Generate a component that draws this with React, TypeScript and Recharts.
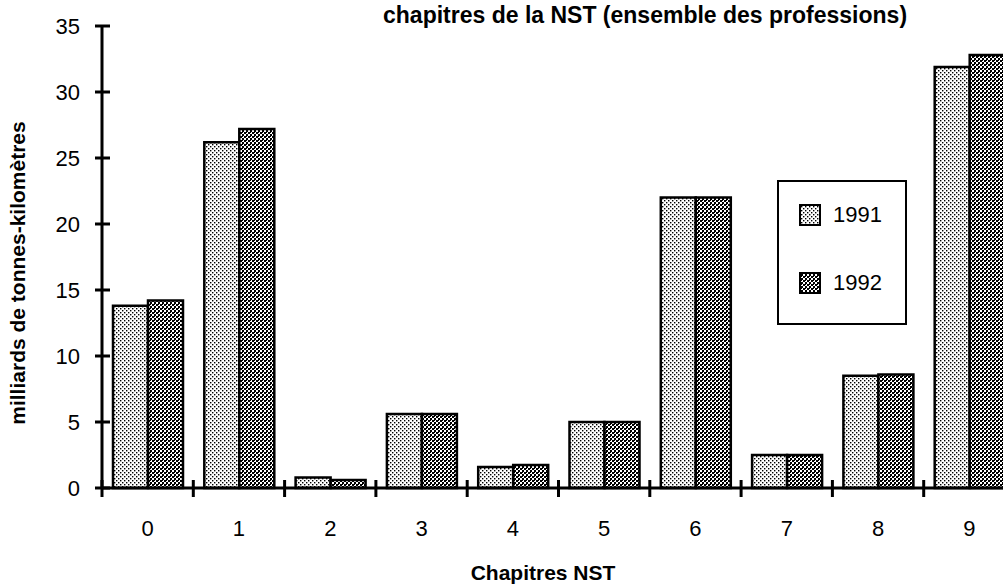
import { BarChart, Bar, XAxis, YAxis, Legend } from "recharts";

const categories = ["0", "1", "2", "3", "4", "5", "6", "7", "8", "9"];
const values1991 = [13.8, 26.2, 0.8, 5.6, 1.6, 5.0, 22.0, 2.5, 8.5, 31.9];
const values1992 = [14.2, 27.2, 0.6, 5.6, 1.75, 5.0, 22.0, 2.5, 8.6, 32.8];
const yTicks = [0, 5, 10, 15, 20, 25, 30, 35];

const data = categories.map((c, i) => ({
    chap: c,
    a1991: values1991[i],
    a1992: values1992[i],
}));

// layout
const CHART_W = 1020;
const CHART_H = 588;
const MARGIN = { top: 26, right: 5, bottom: 0, left: 0 };
const YAXIS_W = 102;
const STEP = (CHART_W - MARGIN.left - MARGIN.right - YAXIS_W) / categories.length;
const FONT = "'Liberation Sans', Arial, Helvetica, sans-serif";

const YTick = (props: any) => {
    const { x, y, payload } = props;
    return (
        <g>
            <line x1={x - 7} x2={x + 8} y1={y} y2={y} stroke="#000" strokeWidth={3} />
            <text x={x - 22} y={y} textAnchor="end" dominantBaseline="central" fontSize={22} fontFamily={FONT} fill="#000">
                {payload.value}
            </text>
        </g>
    );
};

const XTick = (props: any) => {
    const { x, y, payload } = props;
    return (
        <g>
            <line x1={x - STEP / 2} x2={x - STEP / 2} y1={y - 8} y2={y + 9} stroke="#000" strokeWidth={3} />
            <text x={x} y={y + 40} textAnchor="middle" dominantBaseline="central" fontSize={22} fontFamily={FONT} fill="#000">
                {payload.value}
            </text>
        </g>
    );
};

const LegendBox = (props: any) => {
    const { payload } = props;
    return (
        <div style={{ width: 126, height: 141, border: "2px solid #000", background: "#fff", position: "relative" }}>
            {(payload || []).map((e: any, i: number) => (
                <div key={e.value} style={{ position: "absolute", left: 20, top: 20 + i * 68, display: "flex", alignItems: "center" }}>
                    <svg width={22} height={22} style={{ display: "block" }}>
                        <rect x={1} y={1} width={20} height={20} fill={e.color} stroke="#000" strokeWidth={2} />
                    </svg>
                    <span style={{ marginLeft: 12, fontSize: 22, fontFamily: FONT, color: "#000" }}>{e.value}</span>
                </div>
            ))}
        </div>
    );
};

export default function App() {
    return (
        <div style={{ position: "absolute", left: 0, top: 0, width: 1003, height: 588, overflow: "hidden", background: "#fff" }}>
            <svg width={0} height={0} style={{ position: "absolute" }}>
                <defs>
                    <pattern id="p1991" width={4} height={4} patternUnits="userSpaceOnUse">
                        <rect width={4} height={4} fill="#fff" />
                        <rect x={0} y={0} width={1.4} height={1.4} fill="#000" />
                        <rect x={2} y={2} width={1.4} height={1.4} fill="#000" />
                    </pattern>
                    <pattern id="p1992" width={4} height={4} patternUnits="userSpaceOnUse">
                        <rect width={4} height={4} fill="#fff" />
                        <rect x={0} y={0} width={2} height={2} fill="#000" />
                        <rect x={2} y={2} width={2} height={2} fill="#000" />
                        <rect x={2} y={0} width={1} height={1} fill="#000" />
                    </pattern>
                </defs>
            </svg>
            <BarChart width={CHART_W} height={CHART_H} data={data} margin={MARGIN} barGap={0} barSize={35}>
                <XAxis
                    dataKey="chap"
                    height={100}
                    interval={0}
                    tickSize={0}
                    tickMargin={0}
                    tickLine={false}
                    tick={<XTick />}
                    axisLine={{ stroke: "#000", strokeWidth: 3 }}
                />
                <YAxis
                    type="number"
                    domain={[0, 35]}
                    ticks={yTicks}
                    width={YAXIS_W}
                    tickSize={0}
                    tickMargin={0}
                    tickLine={false}
                    tick={<YTick />}
                    axisLine={{ stroke: "#000", strokeWidth: 3 }}
                />
                <Legend
                    layout="horizontal"
                    verticalAlign="middle"
                    content={<LegendBox />}
                    wrapperStyle={{ position: "absolute", left: 777, top: 180, width: 130, height: 145 }}
                />
                <Bar dataKey="a1991" name="1991" fill="url(#p1991)" stroke="#000" strokeWidth={2.5} isAnimationActive={false} />
                <Bar dataKey="a1992" name="1992" fill="url(#p1992)" stroke="#000" strokeWidth={2.5} isAnimationActive={false} />
            </BarChart>
            <svg width={1003} height={588} style={{ position: "absolute", left: 0, top: 0, pointerEvents: "none" }}>
                <text x={383} y={23} fontSize={23} fontWeight="bold" fontFamily={FONT} fill="#000">
                    chapitres de la NST (ensemble des professions)
                </text>
                <text x={543} y={580} textAnchor="middle" fontSize={21} fontWeight="bold" fontFamily={FONT} fill="#000">
                    Chapitres NST
                </text>
                <text x={0} y={0} transform="translate(25,273) rotate(-90)" textAnchor="middle" fontSize={21} fontWeight="bold" fontFamily={FONT} fill="#000">
                    milliards de tonnes-kilomètres
                </text>
            </svg>
        </div>
    );
}
